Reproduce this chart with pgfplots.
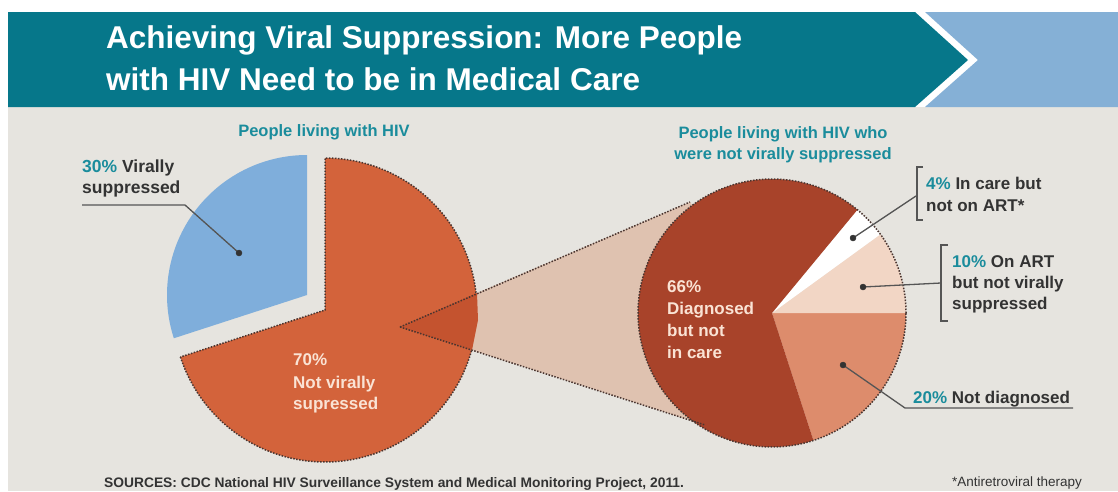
\documentclass[border=0pt]{standalone}
\usepackage{pgfplots}
\pgfplotsset{compat=1.18}
\usepackage{fontspec}
\setmainfont{Liberation Sans}
\definecolor{bgC}{HTML}{E6E4DF}
\definecolor{tealB}{HTML}{06778A}
\definecolor{blueB}{HTML}{85B0D6}
\definecolor{blueC}{HTML}{7FAEDB}
\definecolor{orangeC}{HTML}{D3633B}
\definecolor{triC}{HTML}{C4532F}
\definecolor{darkR}{HTML}{A8432A}
\definecolor{peachC}{HTML}{F2D6C5}
\definecolor{salmonC}{HTML}{DD8C6C}
\definecolor{connC}{HTML}{DFC2B0}
\definecolor{dotC}{HTML}{4A3530}
\definecolor{tealT}{HTML}{1A8C9C}
\definecolor{darkT}{HTML}{333333}
\definecolor{lightT}{HTML}{FAE3D4}
\definecolor{lineC}{HTML}{555555}
% data (percent)
\def\lSupp{30}\def\lNot{70}
\def\rDiag{66}\def\rCare{4}\def\rArt{10}\def\rNotDiag{20}
\newcommand{\pieslice}[7]{% cx cy r a b fill drawstyle
  \addplot[fill=#6, #7, domain=#4:#5, samples=120] ({#1+#3*cos(x)},{#2-#3*sin(x)}) -- (axis cs:#1,#2) -- cycle;}
\tikzset{dotline/.style={draw=dotC, line width=1.5pt, dash pattern=on 1.5pt off 1.5pt},
  callout/.style={draw=lineC, line width=1.3pt}}
\newcommand{\lbl}[4][]{\node[anchor=base west, inner sep=0pt, #1] at (axis cs:#2,#3) {#4};}
\begin{document}
\begin{tikzpicture}
\begin{axis}[width=1118pt,height=491pt,scale only axis,xmin=0,xmax=1118,ymin=0,ymax=491,
  y dir=reverse,hide axis,clip=false]
% backgrounds
\fill[white] (axis cs:0,0) rectangle (axis cs:1118,491);
\fill[bgC] (axis cs:8,107) rectangle (axis cs:1118,491);
\fill[tealB] (axis cs:8,12) -- (axis cs:915,12) -- (axis cs:968,60) -- (axis cs:915,107) -- (axis cs:8,107) -- cycle;
\fill[blueB] (axis cs:925,12) -- (axis cs:1118,12) -- (axis cs:1118,107) -- (axis cs:925,107) -- (axis cs:978,60) -- cycle;
% title
\lbl[text=white, font=\bfseries\fontsize{31.5}{31}\selectfont]{106}{48}{Achieving Viral Suppression: More People}
\lbl[text=white, font=\bfseries\fontsize{31.5}{31}\selectfont]{106}{90}{with HIV Need to be in Medical Care}
% angles
\pgfmathsetmacro\aA{90}
\pgfmathsetmacro\aB{90+3.6*\lSupp}
\pgfmathsetmacro\aC{\aB+3.6*\lNot}
\pgfmathsetmacro\rA{-3.6*\rNotDiag}
\pgfmathsetmacro\rB{0}
\pgfmathsetmacro\rC{3.6*\rArt}
\pgfmathsetmacro\rD{\rC+3.6*\rCare}
\pgfmathsetmacro\rE{\rD+3.6*\rDiag}
% left pie
\pieslice{307}{295}{140}{\aA}{\aB}{blueC}{draw=none}
\pieslice{325}{310}{152}{\aB}{\aC}{orangeC}{dotline}
% connector
\addplot[fill=connC, draw=none] coordinates {(477,293) (690,202) (772,313) (705,425) (472,350)} -- cycle;
\addplot[fill=triC, draw=none] coordinates {(400,327) (477,293) (478,320) (472,350)} -- cycle;
% right pie
\pieslice{772}{313}{134}{\rA}{\rB}{salmonC}{draw=none}
\pieslice{772}{313}{134}{\rB}{\rC}{peachC}{draw=none}
\pieslice{772}{313}{134}{\rC}{\rD}{white}{draw=none}
\pieslice{772}{313}{134}{\rD}{\rE}{darkR}{draw=none}
\addplot[dotline, domain=0:360, samples=180] ({772+134*cos(x)},{313-134*sin(x)});
% dotted connector lines
\addplot[dotline] coordinates {(400,327) (690,202)};
\addplot[dotline] coordinates {(400,327) (705,425)};
% headings
\node[anchor=base, inner sep=0pt, text=tealT, font=\bfseries\fontsize{16.5}{18}\selectfont] at (axis cs:324,136) {People living with HIV};
\node[anchor=base, inner sep=0pt, text=tealT, font=\bfseries\fontsize{16.5}{18}\selectfont] at (axis cs:783,138) {People living with HIV who};
\node[anchor=base, inner sep=0pt, text=tealT, font=\bfseries\fontsize{16.5}{18}\selectfont] at (axis cs:783,159) {were not virally suppressed};
% callouts
\addplot[callout] coordinates {(239,253) (185,205) (82,205)};
\addplot[only marks, mark=*, mark size=3pt, color=darkT] coordinates {(239,253) (853,238) (863,287) (843,365)};
\addplot[callout] coordinates {(853,238) (916,196)};
\addplot[callout] coordinates {(923,167) (917,167) (917,220) (923,220)};
\addplot[callout] coordinates {(863,287) (941,283)};
\addplot[callout] coordinates {(948,245) (941,245) (941,321) (948,321)};
\addplot[callout] coordinates {(843,365) (905,408) (1073,408)};
% labels
\lbl[font=\bfseries\fontsize{17.5}{20}\selectfont]{82}{172}{\textcolor{tealT}{30\%} \textcolor{darkT}{Virally}}
\lbl[font=\bfseries\fontsize{17.5}{20}\selectfont, text=darkT]{82}{193}{suppressed}
\lbl[font=\bfseries\fontsize{17}{20}\selectfont, text=lightT]{293}{365}{70\%}
\lbl[font=\bfseries\fontsize{17}{20}\selectfont, text=lightT]{293}{388}{Not virally}
\lbl[font=\bfseries\fontsize{17}{20}\selectfont, text=lightT]{293}{409}{supressed}
\lbl[font=\bfseries\fontsize{17}{20}\selectfont, text=lightT]{667}{292}{66\%}
\lbl[font=\bfseries\fontsize{17}{20}\selectfont, text=lightT]{667}{314}{Diagnosed}
\lbl[font=\bfseries\fontsize{17}{20}\selectfont, text=lightT]{667}{336}{but not}
\lbl[font=\bfseries\fontsize{17}{20}\selectfont, text=lightT]{667}{358}{in care}
\lbl[font=\bfseries\fontsize{17}{20}\selectfont]{926}{189}{\textcolor{tealT}{4\%} \textcolor{darkT}{In care but}}
\lbl[font=\bfseries\fontsize{17}{20}\selectfont, text=darkT]{926}{211}{not on ART*}
\lbl[font=\bfseries\fontsize{17}{20}\selectfont]{952}{267}{\textcolor{tealT}{10\%} \textcolor{darkT}{On ART}}
\lbl[font=\bfseries\fontsize{17}{20}\selectfont, text=darkT]{952}{288}{but not virally}
\lbl[font=\bfseries\fontsize{17}{20}\selectfont, text=darkT]{952}{309}{suppressed}
\lbl[font=\bfseries\fontsize{17}{20}\selectfont]{913}{403}{\textcolor{tealT}{20\%} \textcolor{darkT}{Not diagnosed}}
% footer
\lbl[font=\bfseries\fontsize{13.8}{16}\selectfont, text=darkT]{104}{487}{SOURCES: CDC National HIV Surveillance System and Medical Monitoring Project, 2011.}
\lbl[font=\fontsize{13.5}{16}\selectfont, text=darkT]{952}{486}{*Antiretroviral therapy}
\end{axis}
\pgfresetboundingbox
\path[use as bounding box] (0,0) rectangle (1118pt,491pt);
\end{tikzpicture}
\end{document}
